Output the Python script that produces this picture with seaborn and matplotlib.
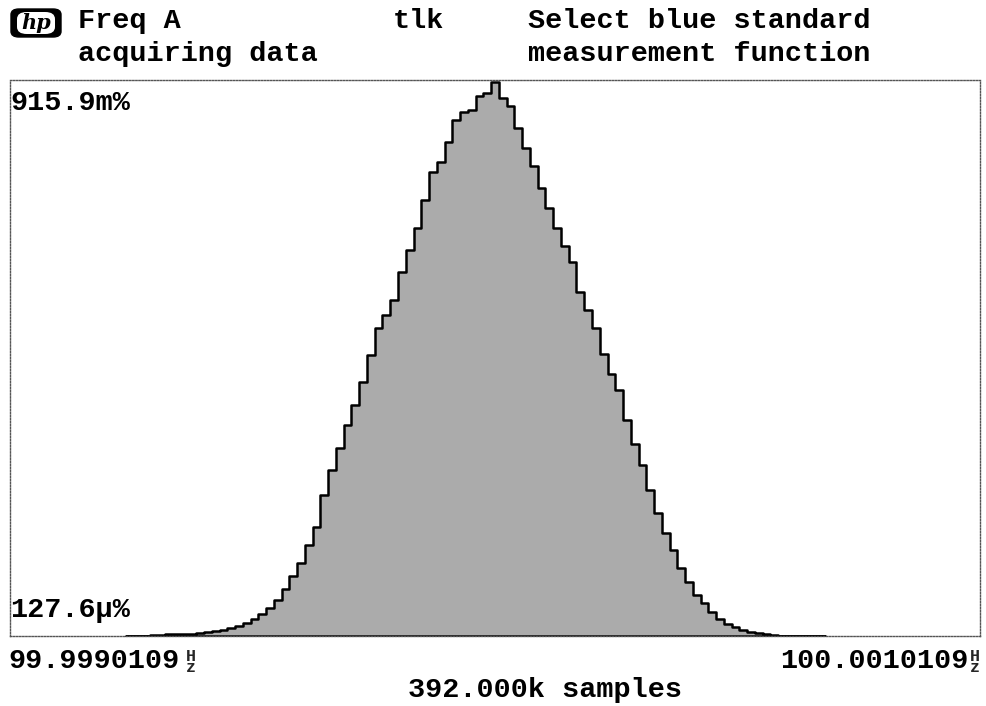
import numpy as np
import pandas as pd
import matplotlib
matplotlib.use("Agg")
import matplotlib.pyplot as plt
from matplotlib.patches import FancyBboxPatch
import seaborn as sns

f_min_label = "99.9990109"
f_max_label = "100.0010109"
y_max_label = "915.9m%"
y_min_label = "127.6µ%"
samples_label = "392.000k samples"
header_left = ["Freq A", "acquiring data"]
header_mid = "tlk"
header_right = ["Select blue standard", "measurement function"]

span_mhz = 2.0          # 99.9990109 .. 100.0010109 Hz
n_bins_total = 125      # histogram bins across the screen
first_bin = 15          # first non-empty bin
# bin heights in m% (read from the screen, bins 15..104)
heights = [
    0.3, 0.5, 0.8, 1.7, 1.7, 2.5, 3.3, 3.3, 4.1, 5.0,
    6.6, 8.3, 9.9, 13.2, 16.5, 21.5, 28.1, 36.4, 46.3, 59.5,
    77.7, 99.2, 120.7, 150.4, 180.2, 233.1, 274.4, 310.8, 348.8, 381.9,
    419.9, 464.6, 509.2, 530.7, 555.5, 601.8, 638.2, 674.5, 720.8, 767.1,
    783.7, 816.7, 853.1, 866.3, 869.6, 892.8, 897.7, 915.9, 889.5, 876.2,
    839.9, 806.8, 777.1, 740.7, 707.6, 674.5, 644.8, 618.3, 568.7, 539.0,
    509.2, 466.2, 433.2, 406.7, 357.1, 317.4, 282.7, 241.4, 203.4, 170.3,
    142.2, 112.4, 89.3, 67.8, 54.6, 39.7, 28.1, 19.8, 14.9, 9.9,
    6.6, 5.0, 3.3, 1.7, 0.8, 0.5, 0.3, 0.3, 0.2, 0.2,
]

bw = span_mhz / n_bins_total
idx = np.arange(first_bin, first_bin + len(heights))
lo = -span_mhz / 2 + first_bin * bw
hi = lo + len(heights) * bw
centers = -span_mhz / 2 + (idx + 0.5) * bw
df = pd.DataFrame({"offset": centers, "pct": heights})

sns.set_style("white")
plt.rcParams["font.family"] = ["Liberation Mono", "DejaVu Sans Mono"]

W, H = 986, 706
fig = plt.figure(figsize=(W / 100, H / 100), dpi=100)
fig.patch.set_facecolor("white")

L, R, T, B = 10, 980, 80, 636
ax = fig.add_axes([L / W, 1 - B / H, (R - L) / W, (B - T) / H])

sns.histplot(data=df, x="offset", weights="pct", bins=len(heights),
             binrange=(lo, hi), element="step",
             fill=True, color="#ababab", alpha=1.0, edgecolor="black",
             linewidth=1.8, ax=ax)
for ln in ax.lines:
    ln.set_color("black")
    ln.set_linewidth(1.9)

ax.set_xlim(-span_mhz / 2, span_mhz / 2)
ax.set_ylim(0, 915.9 * 556 / 554)
ax.set_xticks([])
ax.set_yticks([])
ax.set_xlabel("")
ax.set_ylabel("")
for s in ax.spines.values():
    s.set_visible(True)
    s.set_color("#555555")
    s.set_linewidth(1.0)
    s.set_linestyle((0, (1, 1.2)))

fs = 20.5
def ftext(x, y, s, **kw):
    kw.setdefault("fontsize", fs)
    kw.setdefault("fontweight", "bold")
    kw.setdefault("va", "center")
    kw.setdefault("color", "black")
    fig.text(x / W, 1 - y / H, s, **kw)

# header
ftext(78, 21, header_left[0])
ftext(78, 54, header_left[1])
ftext(393, 21, header_mid)
ftext(528, 21, header_right[0])
ftext(528, 54, header_right[1])

# hp logo
logo = FancyBboxPatch((11 / W, 1 - 37 / H), 50 / W, 28 / H,
                      boxstyle="round,pad=0,rounding_size=0.008",
                      transform=fig.transFigure, facecolor="black",
                      edgecolor="black", zorder=5)
fig.patches.append(logo)
inner = FancyBboxPatch((17 / W, 1 - 34 / H), 38 / W, 22 / H,
                       boxstyle="round,pad=0,rounding_size=0.01",
                       transform=fig.transFigure, facecolor="white",
                       edgecolor="none", zorder=6)
fig.patches.append(inner)
fig.text(36 / W, 1 - 23 / H, "hp", fontsize=15, fontstyle="italic",
         fontweight="bold", family="DejaVu Serif", ha="center", va="center",
         color="black", zorder=7)

# y range labels
ftext(10, 103, y_max_label)
ftext(10, 610, y_min_label)

# x range labels with stacked Hz
def hz(xpos, y):
    fig.text(xpos / W, 1 - y / H, "H\nz", fontsize=12, fontweight="bold",
             ha="center", va="center", linespacing=0.72,
             family=["Liberation Mono"])

ftext(8, 661, f_min_label)
hz(191, 662)
ftext(969, 661, f_max_label, ha="right")
hz(975, 662)

ftext(545, 690, samples_label, ha="center")

fig.savefig("out.png", dpi=100, facecolor="white")
